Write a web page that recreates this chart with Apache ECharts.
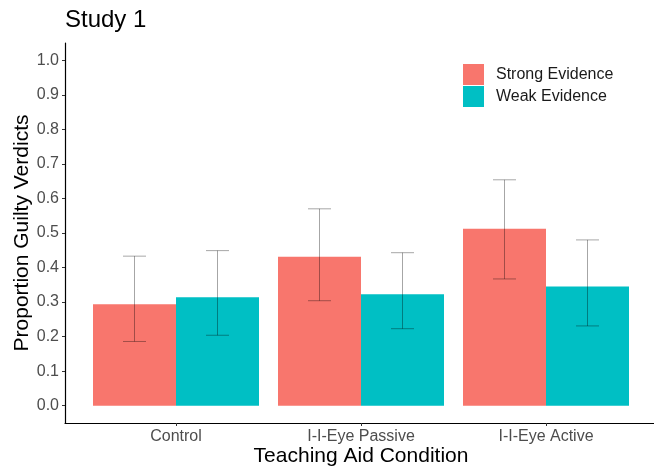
<!DOCTYPE html>
<html><head><meta charset="utf-8">
<script src="https://cdn.jsdelivr.net/npm/echarts@6/dist/echarts.min.js"></script>
<style>html,body{margin:0;padding:0;background:#fff}#c{width:654px;height:468px}</style>
</head><body><div id="c"></div>
<script>
var categories = ['Control', 'I-I-Eye Passive', 'I-I-Eye Active'];
var seriesNames = ['Strong Evidence', 'Weak Evidence'];
var strongValues = [0.294, 0.431, 0.512];
var weakValues = [0.314, 0.323, 0.345];
var strongLow = [0.186, 0.304, 0.367];
var strongHigh = [0.433, 0.570, 0.654];
var weakLow = [0.204, 0.223, 0.231];
var weakHigh = [0.449, 0.443, 0.480];
var yTicks = [0, 0.1, 0.2, 0.3, 0.4, 0.5, 0.6, 0.7, 0.8, 0.9, 1.0];
var xPositions = [1, 2, 3];

var FONT = 'Arial, "Liberation Sans", sans-serif';
var BW = 83;

function errData(low, high) {
  return xPositions.map(function (x, i) { return [x, low[i], high[i]]; });
}
function errSeries(low, high, offset) {
  return {
    type: 'custom', silent: true, z: 5,
    data: errData(low, high),
    renderItem: function (params, api) {
      var lo = api.coord([api.value(0), api.value(1)]);
      var hi = api.coord([api.value(0), api.value(2)]);
      var x = lo[0] + offset;
      var hw = 11.5;
      var st = { stroke: 'rgba(0,0,0,0.35)', lineWidth: 1 };
      return { type: 'group', children: [
        { type: 'line', shape: { x1: x, y1: lo[1], x2: x, y2: hi[1] }, style: st },
        { type: 'line', shape: { x1: x - hw, y1: lo[1], x2: x + hw, y2: lo[1] }, style: st },
        { type: 'line', shape: { x1: x - hw, y1: hi[1], x2: x + hw, y2: hi[1] }, style: st }
      ]};
    }
  };
}

var chart = echarts.init(document.getElementById('c'));
chart.setOption({
  animation: false,
  textStyle: { fontFamily: FONT },
  title: { text: 'Study 1', left: 65, top: 8, padding: 0, textStyle: { fontFamily: FONT, fontSize: 24, fontWeight: 'normal', color: '#000' } },
  legend: {
    orient: 'vertical', left: 463, top: 64, padding: 0, itemWidth: 21, itemHeight: 21, itemGap: 1,
    icon: 'rect', data: seriesNames,
    textStyle: { fontFamily: FONT, fontSize: 16, color: '#1a1a1a', padding: [0, 0, 0, 7] }
  },
  grid: { left: 65, right: -3, top: 43, bottom: 45, containLabel: false, outerBoundsMode: 'none' },
  xAxis: {
    type: 'value', min: 0.4, max: 3.6,
    name: 'Teaching Aid Condition', nameLocation: 'middle', nameGap: 23, nameMoveOverlap: false,
    nameTextStyle: { fontFamily: FONT, fontSize: 21, color: '#000' },
    axisLine: { show: true, onZero: false, lineStyle: { color: '#000', width: 1.2 } },
    axisTick: { show: true, length: 3, lineStyle: { color: '#333' }, customValues: xPositions },
    axisLabel: { fontFamily: FONT, fontSize: 16, color: '#4d4d4d', margin: 6, customValues: xPositions,
      formatter: function (v) { return categories[Math.round(v) - 1] || ''; } },
    splitLine: { show: false }
  },
  yAxis: {
    type: 'value', min: -0.05, max: 1.05,
    name: 'Proportion Guilty Verdicts', nameLocation: 'middle', nameGap: 32, nameMoveOverlap: false,
    nameTextStyle: { fontFamily: FONT, fontSize: 21, color: '#000' },
    axisLine: { show: true, onZero: false, lineStyle: { color: '#000', width: 1.2 } },
    axisTick: { show: true, length: 3, lineStyle: { color: '#333' }, customValues: yTicks },
    axisLabel: { fontFamily: FONT, fontSize: 16, color: '#4d4d4d', margin: 6, customValues: yTicks,
      formatter: function (v) { return v.toFixed(1); } },
    splitLine: { show: false }
  },
  series: [
    { name: seriesNames[0], type: 'bar', barWidth: BW, barGap: '0%',
      itemStyle: { color: '#F8766D' },
      data: xPositions.map(function (x, i) { return [x, strongValues[i]]; }) },
    { name: seriesNames[1], type: 'bar', barWidth: BW, barGap: '0%',
      itemStyle: { color: '#00BFC4' },
      data: xPositions.map(function (x, i) { return [x, weakValues[i]]; }) },
    errSeries(strongLow, strongHigh, -BW / 2),
    errSeries(weakLow, weakHigh, BW / 2)
  ]
});
</script></body></html>
